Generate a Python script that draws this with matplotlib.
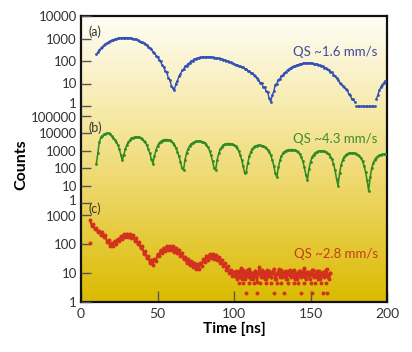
import numpy as np
import matplotlib
matplotlib.use("Agg")
import matplotlib.pyplot as plt
from matplotlib.colors import LinearSegmentedColormap
from matplotlib.transforms import ScaledTranslation

plt.rcParams['font.family'] = ['Lato', 'DejaVu Sans']

# ---- data (counts per 1 ns bin) ----
# (a) QS ~1.6 mm/s, t = 10 .. 199 ns
t_a = np.arange(10, 200)
counts_a = [
    200, 240, 320, 360, 440, 490, 580, 630, 710, 750,
    830, 860, 930, 950, 1010, 1030, 1070, 1070, 1100, 1090,
    1100, 1060, 1060, 1010, 1000, 940, 910, 840, 810, 730,
    690, 610, 570, 490, 440, 360, 330, 260, 235, 175,
    155, 112, 96, 65, 55, 37, 31, 18, 15, 8,
    6, 5, 10, 13, 21, 26, 38, 43, 57, 63,
    77, 83, 100, 105, 121, 123, 136, 136, 147, 145,
    154, 150, 157, 151, 154, 147, 149, 140, 141, 132,
    132, 122, 122, 112, 112, 101, 99, 88, 87, 78,
    77, 69, 68, 61, 60, 53, 52, 45, 44, 37,
    36, 30, 30, 24, 22, 17, 15, 11, 11, 7,
    7, 4.5, 4, 2.2, 1.5, 3, 4.5, 9, 10, 15,
    16, 22, 24, 30, 33, 40, 43, 50, 53, 59,
    61, 67, 69, 74, 75, 79, 79, 82, 81, 83,
    80, 80, 76, 75, 72, 68, 65, 60, 57, 51,
    49, 42, 40, 33, 31, 25, 22, 17, 15, 11,
    10, 8, 7, 5.5, 5, 3.5, 3, 2, 2, 1.5,
    1, 1, 1, 1, 1, 1, 1, 1, 1, 1,
    1, 1, 1, 2, 3, 5, 7, 9, 11, 13,
]

# (b) QS ~4.3 mm/s, t = 10 .. 199 ns
t_b = np.arange(10, 200)
counts_b = [
    170, 750, 3200, 6000, 7500, 8700, 9800, 10500, 10000, 8800,
    7000, 5600, 4400, 3300, 2200, 1300, 600, 280, 600, 1300,
    2200, 3200, 4200, 5100, 5700, 6100, 6200, 6200, 5900, 5400,
    4700, 3900, 3000, 2100, 1300, 700, 330, 185, 500, 1100,
    1900, 2700, 3400, 3900, 4300, 4400, 4400, 4300, 4000, 3500,
    2900, 2200, 1500, 900, 480, 230, 100, 80, 300, 750,
    1300, 1900, 2500, 2900, 3200, 3450, 3600, 3600, 3550, 3400,
    3100, 2700, 2200, 1600, 1000, 550, 250, 100, 80, 300,
    700, 1200, 1700, 2100, 2400, 2550, 2600, 2600, 2550, 2400,
    2150, 1800, 1400, 1000, 600, 300, 130, 50, 60, 200,
    500, 900, 1300, 1650, 1900, 2000, 2050, 2050, 2000, 1900,
    1700, 1450, 1150, 850, 550, 300, 140, 50, 30, 110,
    280, 500, 720, 900, 1030, 1120, 1160, 1170, 1170, 1130,
    1060, 950, 800, 620, 430, 250, 110, 40, 22, 90,
    230, 420, 600, 750, 860, 930, 960, 970, 960, 920,
    850, 750, 620, 470, 320, 180, 80, 25, 10, 50,
    150, 300, 450, 570, 660, 720, 745, 750, 750, 730,
    680, 600, 500, 380, 250, 140, 60, 20, 5, 30,
    100, 200, 310, 410, 490, 550, 590, 620, 630, 640,
]

# (c) QS ~2.8 mm/s, t = 6 .. 163 ns
t_c = np.arange(6, 164)
counts_c = [
    650, 420, 480, 330, 360, 250, 290, 200, 260, 170,
    200, 115, 135, 85, 110, 88, 130, 100, 150, 125,
    185, 150, 215, 170, 230, 175, 225, 155, 200, 130,
    165, 100, 120, 70, 85, 47, 56, 32, 38, 22,
    29, 19, 30, 25, 44, 38, 62, 50, 75, 58,
    85, 62, 86, 60, 82, 55, 72, 48, 64, 40,
    50, 30, 37, 23, 31, 19, 26, 16, 23, 14,
    21, 14, 23, 17, 31, 24, 40, 29, 45, 32,
    46, 31, 43, 27, 36, 22, 29, 17, 22, 13,
    17, 10, 13, 8, 11,
    10, 6, 12, 7, 9, 13, 6, 11, 8, 14,
    6, 10, 8, 12, 5, 10, 9, 13, 7, 11,
    6, 9, 12, 7, 10, 14, 6, 9, 11, 7,
    13, 8, 10, 6, 12, 9, 7, 11, 13, 6,
    10, 8, 12, 7, 9, 14, 6, 11, 8, 10,
    13, 7, 9, 12, 6, 10, 8, 11, 7, 13,
    9, 6, 10,
]
# second set of bins in the noisy tail of (c), t = 100.5 .. 162.5 ns
t_c2 = np.arange(100.5, 163)
counts_c2 = [
    8, 12, 7, 9, 15, 6, 10, 8, 13, 7,
    11, 9, 6, 12, 8, 10, 16, 7, 9, 11,
    6, 13, 8, 10, 7, 12, 9, 6, 11, 14,
    8, 7, 10, 12, 6, 9, 13, 8, 11, 7,
    10, 6, 12, 9, 8, 15, 7, 10, 11, 6,
    9, 13, 8, 10, 7, 12, 6, 9, 11, 8,
    14, 7, 10,
]
# low-count rows and stray points of (c)
t_c3 = [6, 103, 106, 108, 110, 113, 115, 117, 121, 124, 126, 128, 131, 133,
        135, 139, 142, 144, 146, 150, 151, 153, 157, 158, 160, 161]
counts_c3 = [110, 4.6, 4.6, 2.1, 4.6, 4.6, 2.1, 4.6, 4.6, 4.6, 2.1, 4.6, 4.6, 2.1,
             4.6, 4.6, 4.6, 2.1, 4.6, 4.6, 2.1, 4.6, 4.6, 2.1, 4.6, 2.1]

labels = ["(a)", "(b)", "(c)"]
qs_labels = ["QS ~1.6 mm/s", "QS ~4.3 mm/s", "QS ~2.8 mm/s"]
colors = ["#3350b4", "#2e8a22", "#d3311e"]
text_colors = ["#3b4a9c", "#3d8a2c", "#c9391f"]
ylims = [(1, 1e4), (1, 1e5), (1, 1e3)]

# ---- figure ----
fig = plt.figure(figsize=(4.12, 3.52), dpi=100)
L, R = 81 / 412, 387 / 412
def fy(px):
    return 1 - px / 352

ax = fig.add_axes([L, fy(302), R - L, fy(16) - fy(302)])
bg = LinearSegmentedColormap.from_list(
    "bg", [(0, "#fffdf6"), (0.35, "#f6e9a6"), (0.65, "#ecd35c"), (1, "#dabb00")])
ax.imshow(np.linspace(0, 1, 256).reshape(-1, 1), cmap=bg, aspect="auto",
          extent=[0, 200, 0, 1], zorder=0)
ax.set_xlim(0, 200)
ax.set_ylim(0, 1)
ax.set_yticks([])
ax.set_xticks([0, 50, 100, 150, 200])
ax.tick_params(axis="x", direction="in", length=8, width=1, color="#555555",
               labelcolor="#333333", labelsize=10, pad=4)
for s in ax.spines.values():
    s.set_linewidth(1.6)
    s.set_color("#111111")
ax.set_xlabel("Time [ns]", fontsize=11, fontweight="bold", labelpad=2)
fig.text(0.053, 0.531, "Counts", rotation=90, fontsize=11.5, fontweight="bold",
         ha="center", va="center")

panels = [(16, 106), (116, 203), (215, 302)]
series = [(t_a, counts_a, 4, 1.0), (t_b, counts_b, 4, 1.1), (t_c, counts_c, 8, 1.5)]
label_y = [0.83, 0.87, 1.07]
qs_y = [0.6, 0.74, 0.55]
for i, (top, bot) in enumerate(panels):
    p = fig.add_axes([L, fy(bot), R - L, fy(top) - fy(bot)], facecolor="none")
    p.set_xlim(0, 200)
    p.set_yscale("log")
    p.set_ylim(*ylims[i])
    for s in p.spines.values():
        s.set_visible(False)
    p.set_xticks([])
    dec = range(int(np.log10(ylims[i][0])), int(np.log10(ylims[i][1])) + 1)
    p.set_yticks([10 ** d for d in dec])
    p.set_yticklabels([str(10 ** d) for d in dec])
    p.minorticks_off()
    p.tick_params(axis="y", direction="in", length=7, width=1, color="#555555",
                  labelcolor="#333333", labelsize=9.5, pad=3)
    # nudge the crowded end labels apart a little
    tl = p.get_yticklabels()
    if i < 2:
        tl[0].set_transform(tl[0].get_transform()
                            + ScaledTranslation(0, 3 / 100, fig.dpi_scale_trans))
    if i > 0:
        tl[-1].set_transform(tl[-1].get_transform()
                             + ScaledTranslation(0, -1 / 100, fig.dpi_scale_trans))
    t, c, sz, lw = series[i]
    c = np.asarray(c, dtype=float)
    # single counts show as separate dots, not a joined line
    p.plot(t, np.where(c > 1, c, np.nan), color=colors[i], lw=lw, zorder=2,
           clip_on=False)
    p.scatter(t, c, s=sz, color=colors[i], lw=0, clip_on=False, zorder=3)
    if i == 2:
        p.plot(t_c2, counts_c2, color=colors[i], lw=1.0, zorder=2)
        p.scatter(t_c2, counts_c2, s=sz, color=colors[i], lw=0, zorder=3)
        p.scatter(t_c3, counts_c3, s=sz, color=colors[i], lw=0, zorder=3)
    p.text(0.025, label_y[i], labels[i], transform=p.transAxes,
           fontsize=9, color="#333333", va="center")
    p.text(0.97, qs_y[i], qs_labels[i], transform=p.transAxes, ha="right",
           va="center", fontsize=9.5, color=text_colors[i])

fig.savefig("out.png", dpi=100)
